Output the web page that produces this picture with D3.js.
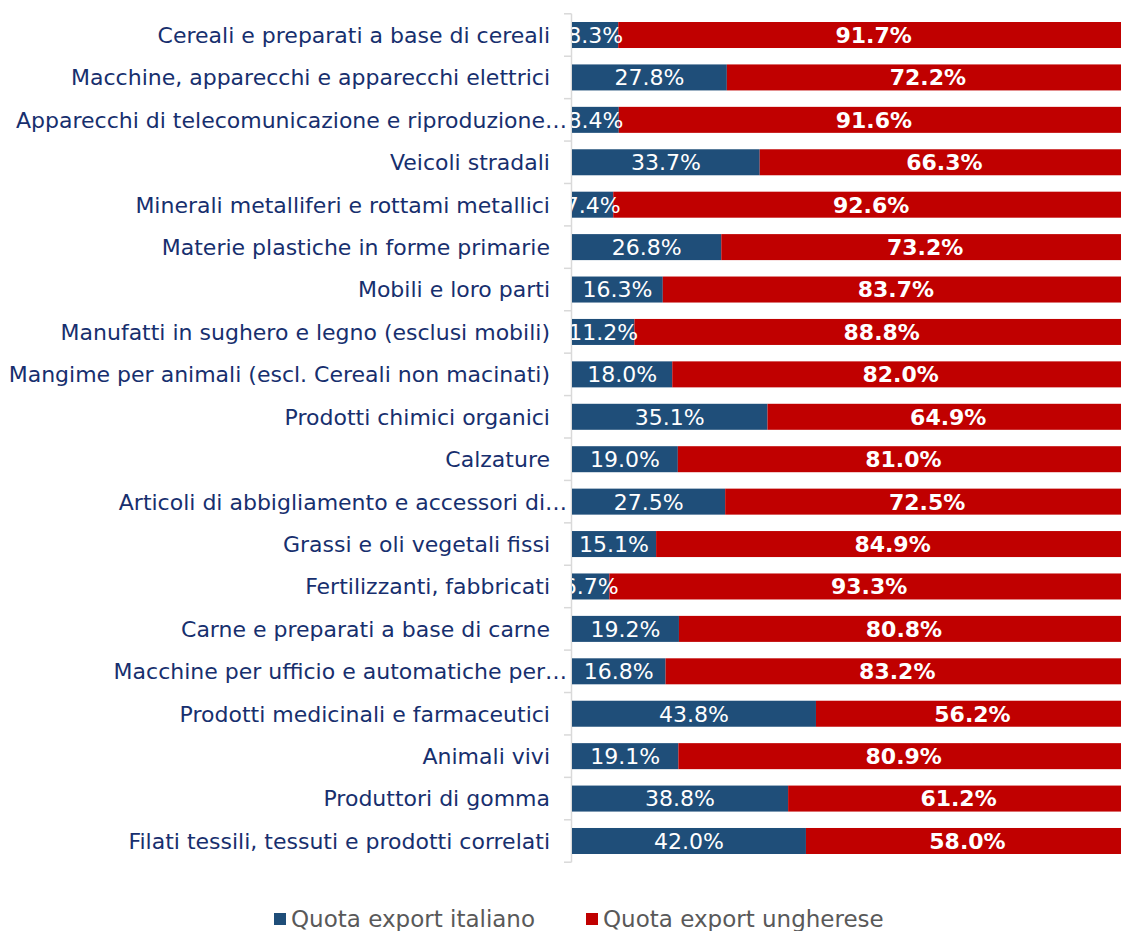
<!DOCTYPE html>
<html>
<head>
<meta charset="utf-8">
<script src="https://cdn.jsdelivr.net/npm/d3@7"></script>
<style>
  body { margin: 0; background: #fff; overflow: hidden; }
  svg { display: block; font-family: "DejaVu Sans", Verdana, sans-serif; }
</style>
</head>
<body>
<svg id="chart" width="1121" height="931"></svg>
<script>
// categories, top to bottom
const categories = [
  "Cereali e preparati a base di cereali",
  "Macchine, apparecchi e apparecchi elettrici",
  "Apparecchi di telecomunicazione e riproduzione…",
  "Veicoli stradali",
  "Minerali metalliferi e rottami metallici",
  "Materie plastiche in forme primarie",
  "Mobili e loro parti",
  "Manufatti in sughero e legno (esclusi mobili)",
  "Mangime per animali (escl. Cereali non macinati)",
  "Prodotti chimici organici",
  "Calzature",
  "Articoli di abbigliamento e accessori di…",
  "Grassi e oli vegetali fissi",
  "Fertilizzanti, fabbricati",
  "Carne e preparati a base di carne",
  "Macchine per ufficio e automatiche per…",
  "Prodotti medicinali e farmaceutici",
  "Animali vivi",
  "Produttori di gomma",
  "Filati tessili, tessuti e prodotti correlati"
];

const quotaItaliana = [8.3, 27.8, 8.4, 33.7, 7.4, 26.8, 16.3, 11.2, 18.0, 35.1,
                       19.0, 27.5, 15.1, 6.7, 19.2, 16.8, 43.8, 19.1, 38.8, 42.0];
const quotaUngherese = [91.7, 72.2, 91.6, 66.3, 92.6, 73.2, 83.7, 88.8, 82.0, 64.9,
                        81.0, 72.5, 84.9, 93.3, 80.8, 83.2, 56.2, 80.9, 61.2, 58.0];

const seriesNames = ["Quota export italiano", "Quota export ungherese"];
const colors = ["#1f4e79", "#c00000"];

const svg = d3.select("#chart");

let plotLeft = 572, plotRight = 1129;

let x = d3.scaleLinear()
  .domain([0, 100])
  .range([plotLeft, plotRight]);

let y = d3.scaleBand()
  .domain(categories)
  .range([13.8, 862.2])
  .paddingInner(0.387)
  .paddingOuter(0.1935);

let rows = categories.map(function(c, i) {
  return {cat: c, ita: quotaItaliana[i], hun: quotaUngherese[i]};
});

svg.append("clipPath")
  .attr("id", "plot-clip")
  .append("rect")
  .attr("x", plotLeft)
  .attr("y", 0)
  .attr("width", 1121 - plotLeft)
  .attr("height", 900);

// axis line with ticks between categories
svg.append("line")
  .attr("x1", 571.5).attr("x2", 571.5)
  .attr("y1", y.range()[0]).attr("y2", y.range()[1])
  .attr("stroke", "#d9d9d9")
  .attr("stroke-width", 1.5);

let boundaries = d3.range(categories.length + 1).map(function(i) {
  return y.range()[0] + i * y.step();
});

svg.selectAll(".tick-mark")
  .data(boundaries)
  .join("line")
    .attr("class", "tick-mark")
    .attr("x1", 564).attr("x2", 571.5)
    .attr("y1", d => d).attr("y2", d => d)
    .attr("stroke", "#d9d9d9")
    .attr("stroke-width", 1.5);

// category labels
svg.selectAll(".cat-label")
  .data(rows)
  .join("text")
    .attr("class", "cat-label")
    .attr("x", d => d.cat.endsWith("…") ? 567 : 550)
    .attr("y", d => y(d.cat) + y.bandwidth() / 2)
    .attr("dy", "0.36em")
    .attr("text-anchor", "end")
    .attr("font-size", 22)
    .attr("fill", "#172f6e")
    .text(d => d.cat);

const plot = svg.append("g").attr("clip-path", "url(#plot-clip)");

plot.selectAll(".bar-ita")
  .data(rows)
  .join("rect")
    .attr("class", "bar-ita")
    .attr("x", x(0))
    .attr("y", d => y(d.cat))
    .attr("width", d => x(d.ita) - x(0))
    .attr("height", y.bandwidth())
    .attr("fill", colors[0]);

plot.selectAll(".bar-hun")
  .data(rows)
  .join("rect")
    .attr("class", "bar-hun")
    .attr("x", d => x(d.ita))
    .attr("y", d => y(d.cat))
    .attr("width", d => x(d.ita + d.hun) - x(d.ita))
    .attr("height", y.bandwidth())
    .attr("fill", colors[1]);

plot.selectAll(".lab-ita")
  .data(rows)
  .join("text")
    .attr("class", "lab-ita")
    .attr("x", d => (x(0) + x(d.ita)) / 2)
    .attr("y", d => y(d.cat) + y.bandwidth() / 2)
    .attr("dy", "0.36em")
    .attr("text-anchor", "middle")
    .attr("font-size", 22)
    .attr("fill", "#fff")
    .text(d => d.ita.toFixed(1) + "%");

plot.selectAll(".lab-hun")
  .data(rows)
  .join("text")
    .attr("class", "lab-hun")
    .attr("x", d => (x(d.ita) + x(d.ita + d.hun)) / 2)
    .attr("y", d => y(d.cat) + y.bandwidth() / 2)
    .attr("dy", "0.36em")
    .attr("text-anchor", "middle")
    .attr("font-size", 22)
    .attr("font-weight", "bold")
    .attr("fill", "#fff")
    .text(d => d.hun.toFixed(1) + "%");

// legend
const legendPos = [274, 586];
const legend = svg.selectAll(".legend")
  .data(seriesNames)
  .join("g")
    .attr("class", "legend")
    .attr("transform", (d, i) => `translate(${legendPos[i]},913)`);

legend.append("rect")
  .attr("width", 12).attr("height", 12)
  .attr("fill", (d, i) => colors[i]);

legend.append("text")
  .attr("x", 17)
  .attr("y", 14)
  .attr("font-size", 23)
  .attr("fill", "#595959")
  .text(d => d);
</script>
</body>
</html>
